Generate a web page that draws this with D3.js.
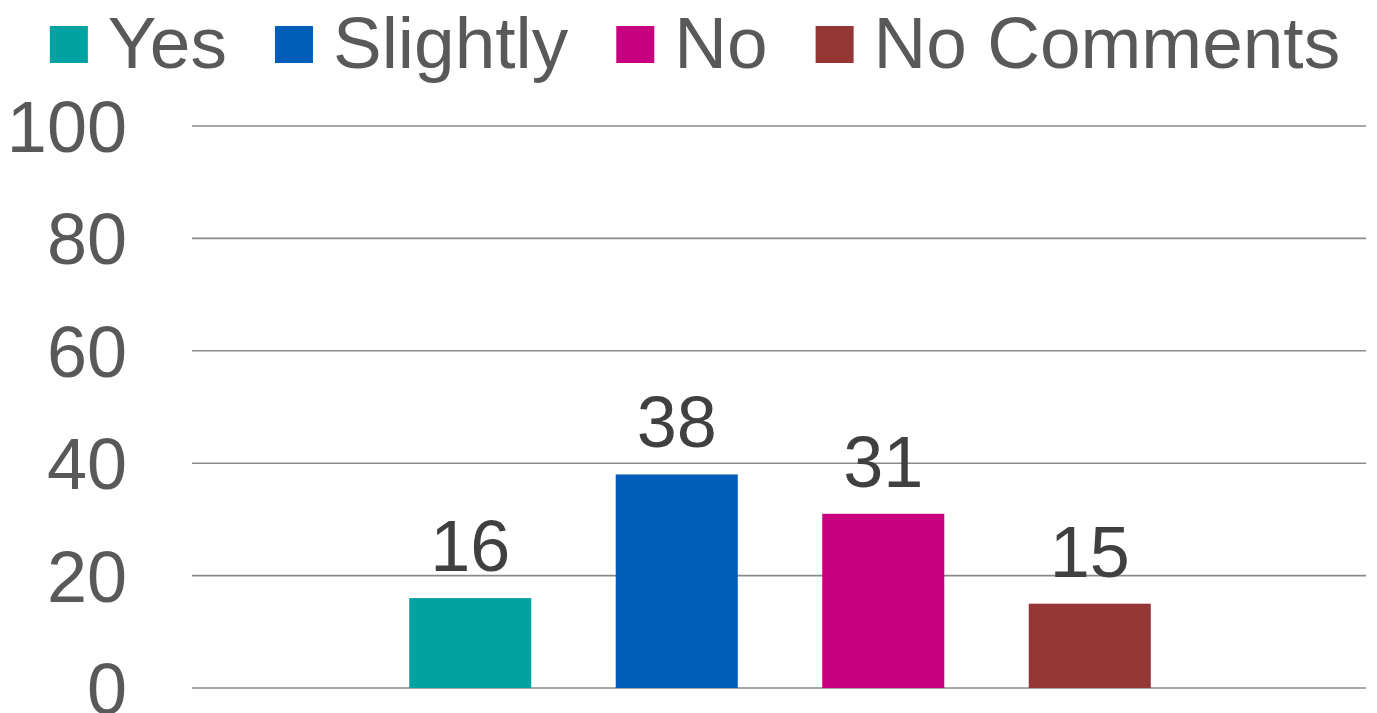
<!DOCTYPE html>
<html>
<head>
<meta charset="utf-8">
<script src="https://cdn.jsdelivr.net/npm/d3@7"></script>
<style>
  html, body { margin: 0; padding: 0; background: #fff; }
  svg { display: block; }
  text { font-family: "Liberation Sans", Arial, sans-serif; }
</style>
</head>
<body>
<svg id="chart" width="1377" height="713"></svg>
<script>
const categories = ["Yes", "Slightly", "No", "No Comments"];
const values = [16, 38, 31, 15];
const colors = ["#00A3A1", "#005EB8", "#C6007E", "#943634"];
const yTicks = [0, 20, 40, 60, 80, 100];

const W = 1377, H = 713;
const plot = { left: 193, right: 1367, top: 126, bottom: 688 };
const svg = d3.select("#chart");

const y = d3.scaleLinear().domain([0, 100]).range([plot.bottom, plot.top]);
const x = d3.scaleBand().domain(categories)
  .range([plot.left, plot.right])
  .paddingInner(0.409).paddingOuter(1.047).align(0.5);

// gridlines
svg.append("g").selectAll("line").data(yTicks).join("line")
  .attr("x1", plot.left - 1).attr("x2", plot.right - 1)
  .attr("y1", d => y(d)).attr("y2", d => y(d))
  .attr("stroke", "#8a8a8a").attr("stroke-width", 1.6);

// y tick labels
svg.append("g").selectAll("text").data(yTicks).join("text")
  .attr("x", 127).attr("y", d => y(d)).attr("dy", "0.36em")
  .attr("text-anchor", "end")
  .attr("font-size", 72).attr("fill", "#595959")
  .text(d => d);

// bars
svg.append("g").selectAll("rect").data(categories).join("rect")
  .attr("x", d => x(d)).attr("width", x.bandwidth())
  .attr("y", (d, i) => y(values[i]))
  .attr("height", (d, i) => y(0) - y(values[i]))
  .attr("fill", (d, i) => colors[i]);

// data labels
svg.append("g").selectAll("text").data(categories).join("text")
  .attr("x", d => x(d) + x.bandwidth() / 2)
  .attr("y", (d, i) => y(values[i]) - 27)
  .attr("text-anchor", "middle")
  .attr("font-size", 72).attr("fill", "#404040")
  .text((d, i) => values[i]);

// legend
const lg = svg.append("g");
const sq = 38, gapTxt = 20, gapItem = 48, baseY = 68;
const items = lg.selectAll("g").data(categories).join("g");
items.append("rect").attr("width", sq).attr("height", 37)
  .attr("y", 26).attr("fill", (d, i) => colors[i]);
items.append("text").attr("x", sq + gapTxt).attr("y", baseY)
  .attr("font-size", 73).attr("fill", "#595959").text(d => d);
let widths = [];
items.each(function () { widths.push(d3.select(this).select("text").node().getComputedTextLength()); });
const total = d3.sum(widths.map(w => sq + gapTxt + w)) + gapItem * (categories.length - 1);
let cx = 695 - total / 2;
items.attr("transform", (d, i) => {
  const t = `translate(${cx},0)`;
  cx += sq + gapTxt + widths[i] + gapItem;
  return t;
});
</script>
</body>
</html>
